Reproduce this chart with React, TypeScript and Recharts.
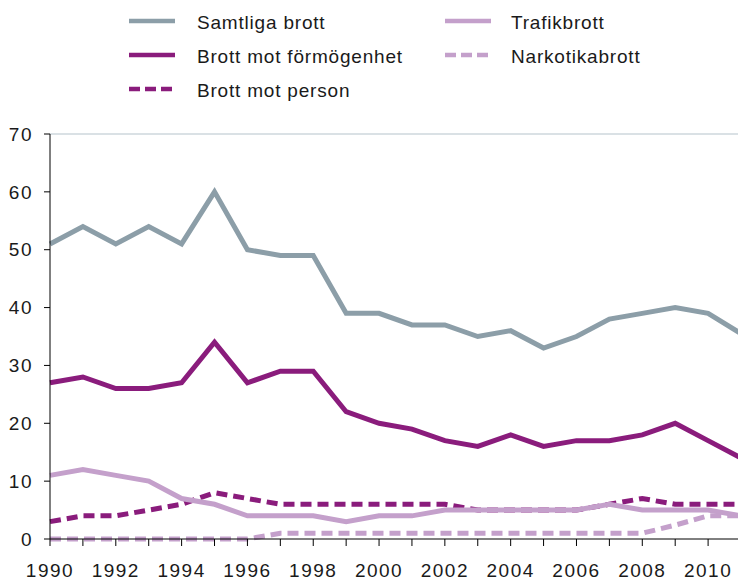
import React from 'react';
import { LineChart, Line, XAxis, YAxis, ReferenceLine, Legend } from 'recharts';

const years = [1990, 1991, 1992, 1993, 1994, 1995, 1996, 1997, 1998, 1999, 2000, 2001, 2002, 2003, 2004, 2005, 2006, 2007, 2008, 2009, 2010, 2011];
const samtliga = [51, 54, 51, 54, 51, 60, 50, 49, 49, 39, 39, 37, 37, 35, 36, 33, 35, 38, 39, 40, 39, 35.5];
const formogenhet = [27, 28, 26, 26, 27, 34, 27, 29, 29, 22, 20, 19, 17, 16, 18, 16, 17, 17, 18, 20, 17, 14];
const person = [3, 4, 4, 5, 6, 8, 7, 6, 6, 6, 6, 6, 6, 5, 5, 5, 5, 6, 7, 6, 6, 6];
const trafik = [11, 12, 11, 10, 7, 6, 4, 4, 4, 3, 4, 4, 5, 5, 5, 5, 5, 6, 5, 5, 5, 4];
const narkotika = [0, 0, 0, 0, 0, 0, 0, 1, 1, 1, 1, 1, 1, 1, 1, 1, 1, 1, 1, 2.4, 4, 4];
const yTicks = [0, 10, 20, 30, 40, 50, 60, 70];

const GRAY = '#8c9ea8';
const PURPLE = '#8a1c7c';
const LIGHT = '#c4a0cb';
const FONT = '"Liberation Sans", Arial, Helvetica, sans-serif';

const data = years.map((year, i) => ({
  year,
  samtliga: samtliga[i],
  formogenhet: formogenhet[i],
  person: person[i],
  trafik: trafik[i],
  narkotika: narkotika[i],
}));

const legendItems = [
  { label: 'Samtliga brott', color: GRAY, dash: undefined as string | undefined, col: 0, row: 0 },
  { label: 'Brott mot förmögenhet', color: PURPLE, dash: undefined, col: 0, row: 1 },
  { label: 'Brott mot person', color: PURPLE, dash: '11 5', col: 0, row: 2 },
  { label: 'Trafikbrott', color: LIGHT, dash: undefined, col: 1, row: 0 },
  { label: 'Narkotikabrott', color: LIGHT, dash: '11 5', col: 1, row: 1 },
];

const colSwatchX = [129, 445];
const colTextX = [197, 511];
const rowBaseline = [29, 63, 97];

const renderLegend = () => (
  <svg width={738} height={110} style={{ display: 'block' }}>
    {legendItems.map((it) => {
      const b = rowBaseline[it.row];
      const sx = colSwatchX[it.col];
      return (
        <g key={it.label}>
          <line x1={sx} x2={sx + 46} y1={b - 8} y2={b - 8} stroke={it.color} strokeWidth={4.5} strokeDasharray={it.dash} />
          <text x={colTextX[it.col]} y={b} fontSize={19} letterSpacing={0.8} fill="#1a1a1a" fontFamily={FONT}>
            {it.label}
          </text>
        </g>
      );
    })}
  </svg>
);

export default function App() {
  return (
    <div style={{ position: 'fixed', left: 0, top: 0, width: 738, height: 581, overflow: 'hidden', background: '#fff' }}>
      <LineChart width={760} height={581} data={data} margin={{ top: 24, right: 19, bottom: 0, left: 0 }}>
        <Legend
          verticalAlign="top"
          content={renderLegend}
          wrapperStyle={{ top: 0, left: 0, width: 738, height: 110 }}
        />
        <ReferenceLine y={70} stroke="#b5c4cc" strokeWidth={1.2} />
        <XAxis
          dataKey="year"
          type="number"
          domain={[1990, 2011]}
          ticks={years}
          interval={0}
          tickFormatter={(v: number) => (v % 2 === 0 ? String(v) : '')}
          height={42}
          tickSize={7}
          tickMargin={18}
          axisLine={{ stroke: '#000' }}
          tickLine={{ stroke: '#000' }}
          tick={{ fontSize: 19, fill: '#1a1a1a', fontFamily: FONT, letterSpacing: 1.5 }}
        />
        <YAxis
          domain={[0, 70]}
          ticks={yTicks}
          interval={0}
          width={50}
          tickSize={6}
          tickMargin={11}
          axisLine={{ stroke: '#000' }}
          tickLine={{ stroke: '#000' }}
          tick={{ fontSize: 19, fill: '#1a1a1a', fontFamily: FONT, letterSpacing: 1.5 }}
        />
        <Line dataKey="samtliga" stroke={GRAY} strokeWidth={5} dot={false} isAnimationActive={false} />
        <Line dataKey="formogenhet" stroke={PURPLE} strokeWidth={5} dot={false} isAnimationActive={false} />
        <Line dataKey="person" stroke={PURPLE} strokeWidth={5} strokeDasharray="11 6" dot={false} isAnimationActive={false} />
        <Line dataKey="trafik" stroke={LIGHT} strokeWidth={5} dot={false} isAnimationActive={false} />
        <Line dataKey="narkotika" stroke={LIGHT} strokeWidth={5} strokeDasharray="11 6" dot={false} isAnimationActive={false} />
      </LineChart>
    </div>
  );
}
